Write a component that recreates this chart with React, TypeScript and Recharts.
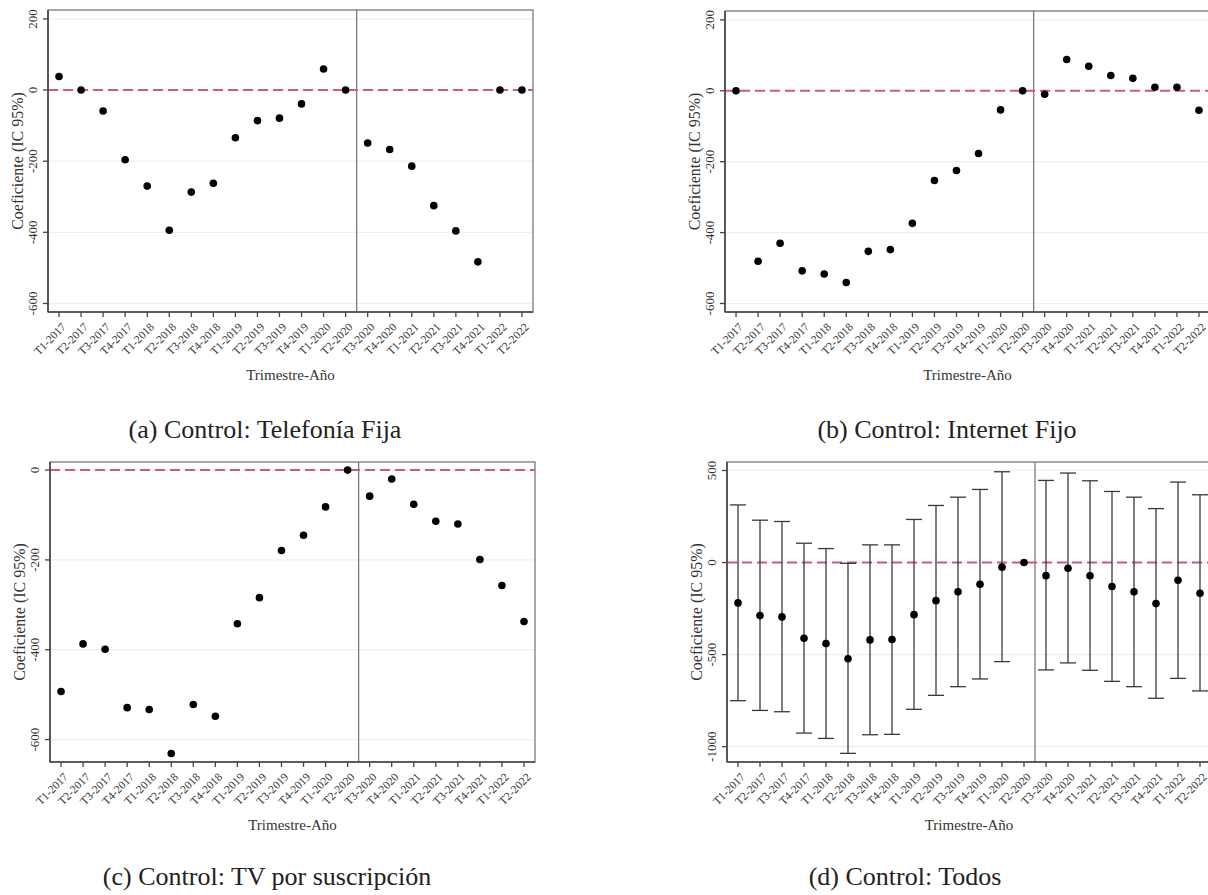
import {
  CartesianGrid,
  ComposedChart,
  ErrorBar,
  Label,
  ReferenceArea,
  ReferenceLine,
  Scatter,
  XAxis,
  YAxis,
} from 'recharts'

const FONT = '"Liberation Serif", "DejaVu Serif", serif'

const periods = [
  'T1-2017', 'T2-2017', 'T3-2017', 'T4-2017',
  'T1-2018', 'T2-2018', 'T3-2018', 'T4-2018',
  'T1-2019', 'T2-2019', 'T3-2019', 'T4-2019',
  'T1-2020', 'T2-2020', 'T3-2020', 'T4-2020',
  'T1-2021', 'T2-2021', 'T3-2021', 'T4-2021',
  'T1-2022', 'T2-2022',
]

// position of the vertical break between T2-2020 and T3-2020
const BREAK_AT = 13.5

const telefoniaFija = [38, 0, -59, -196, -270, -394, -287, -262, -134, -86, -79, -39, 59, 0, -149, -167, -214, -325, -396, -483, 0, 0]
const internetFijo = [0, -481, -430, -508, -517, -541, -453, -448, -374, -253, -225, -177, -54, 0, -10, 88, 69, 43, 35, 10, 10, -55]
const tvSuscripcion = [-493, -387, -399, -529, -533, -631, -522, -548, -342, -284, -179, -145, -82, 0, -58, -20, -76, -114, -120, -199, -257, -337]
const todos = [-219, -288, -295, -411, -440, -522, -420, -418, -283, -207, -159, -118, -25, 0, -71, -31, -72, -130, -159, -223, -96, -167]
const todosLower = [-750, -803, -810, -926, -955, -1036, -935, -933, -797, -721, -674, -632, -538, null, -583, -545, -585, -645, -674, -737, -629, -697]
const todosUpper = [313, 230, 223, 105, 76, -4, 96, 96, 234, 310, 355, 397, 493, null, 446, 486, 444, 386, 355, 293, 437, 368]

const ticksSmall = [-600, -400, -200, 0, 200]
const ticksTv = [-600, -400, -200, 0]
const ticksTodos = [-1000, -500, 0, 500]

type PanelProps = {
  values: number[]
  lower?: (number | null)[]
  upper?: (number | null)[]
  domain: [number, number]
  ticks: number[]
  left: number
  top: number
  width: number
  yAxisWidth: number
  xAxisHeight: number
}

const HEIGHT = 400

function XTick({ x, y, payload }: any) {
  const ax = x + 2
  const ay = y + 3
  return (
    <text
      x={ax}
      y={ay}
      transform={`rotate(-45, ${ax}, ${ay})`}
      textAnchor="end"
      dominantBaseline="hanging"
      fontSize={11.5}
      fontFamily={FONT}
      fill="#333"
    >
      {periods[payload.value]}
    </text>
  )
}

function YTick({ x, y, payload }: any) {
  const ax = x - 4
  return (
    <text
      x={ax}
      y={y}
      transform={`rotate(-90, ${ax}, ${y})`}
      textAnchor="middle"
      fontSize={13}
      fontFamily={FONT}
      fill="#333"
    >
      {payload.value}
    </text>
  )
}

function Dot({ cx, cy }: any) {
  return <circle cx={cx} cy={cy} r={3.8} fill="#000" />
}

function Panel({ values, lower, upper, domain, ticks, left, top, width, yAxisWidth, xAxisHeight }: PanelProps) {
  const data = values.map((v, i) => {
    const lo = lower ? lower[i] : null
    const hi = upper ? upper[i] : null
    return {
      x: i,
      y: v,
      ci: lo === null || hi === null ? null : [v - lo, hi - v],
    }
  })

  return (
    <div style={{ position: 'absolute', left, top }}>
      <ComposedChart
        width={width}
        height={HEIGHT}
        data={data}
        margin={{ top: 10, right: 12, bottom: 0, left: 0 }}
      >
        <CartesianGrid vertical={false} stroke="#efefef" strokeWidth={1.2} />
        <XAxis
          type="number"
          dataKey="x"
          domain={[-0.5, periods.length - 0.5]}
          ticks={periods.map((_, i) => i)}
          interval={0}
          allowDataOverflow
          height={xAxisHeight}
          tick={<XTick />}
          tickSize={5}
          tickLine={{ stroke: '#444', strokeWidth: 1.3 }}
          axisLine={{ stroke: '#444', strokeWidth: 1.6 }}
        >
          <Label
            content={({ viewBox }: any) => (
              <text
                x={viewBox.x + viewBox.width / 2}
                y={viewBox.y + 68}
                textAnchor="middle"
                fontSize={15}
                fontFamily={FONT}
                fill="#333"
              >
                Trimestre-Año
              </text>
            )}
          />
        </XAxis>
        <YAxis
          type="number"
          dataKey="y"
          domain={domain}
          ticks={ticks}
          allowDataOverflow
          width={yAxisWidth}
          tick={<YTick />}
          tickSize={5}
          tickLine={{ stroke: '#444', strokeWidth: 1.3 }}
          axisLine={{ stroke: '#444', strokeWidth: 1.6 }}
        >
          <Label
            content={({ viewBox }: any) => {
              const lx = viewBox.x + viewBox.width - 25
              const ly = viewBox.y + viewBox.height / 2
              return (
                <text
                  x={lx}
                  y={ly}
                  transform={`rotate(-90, ${lx}, ${ly})`}
                  textAnchor="middle"
                  fontSize={16}
                  fontFamily={FONT}
                  fill="#333"
                >
                  Coeficiente (IC 95%)
                </text>
              )
            }}
          />
        </YAxis>
        <ReferenceArea
          x1={-0.5}
          x2={periods.length - 0.5}
          y1={domain[0]}
          y2={domain[1]}
          fill="none"
          stroke="#8c8c8c"
          strokeWidth={1.5}
        />
        <ReferenceLine x={BREAK_AT} stroke="#7a7a7a" strokeWidth={1.3} />
        <ReferenceLine y={0} stroke="#cc5a7e" strokeWidth={2} strokeDasharray="10 5" />
        <Scatter dataKey="y" shape={<Dot />} isAnimationActive={false}>
          {lower && (
            <ErrorBar
              dataKey="ci"
              direction="y"
              width={8}
              stroke="#3a3a3a"
              strokeWidth={1.3}
              isAnimationActive={false}
            />
          )}
        </Scatter>
      </ComposedChart>
    </div>
  )
}

function Caption({ text, cx, top }: { text: string; cx: number; top: number }) {
  return (
    <div
      style={{
        position: 'absolute',
        left: cx - 250,
        top,
        width: 500,
        textAlign: 'center',
        fontFamily: FONT,
        fontSize: 26,
        color: '#222',
        whiteSpace: 'nowrap',
      }}
    >
      {text}
    </div>
  )
}

export default function App() {
  return (
    <div
      style={{
        position: 'absolute',
        left: 0,
        top: 0,
        width: 1208,
        height: 895,
        overflow: 'hidden',
        background: '#fff',
      }}
    >
      <Panel
        values={telefoniaFija}
        domain={[-624, 225]}
        ticks={ticksSmall}
        left={0}
        top={0}
        width={545}
        yAxisWidth={48}
        xAxisHeight={88}
      />
      <Panel
        values={internetFijo}
        domain={[-624, 225]}
        ticks={ticksSmall}
        left={660}
        top={1}
        width={562}
        yAxisWidth={65}
        xAxisHeight={89}
      />
      <Panel
        values={tvSuscripcion}
        domain={[-650, 18]}
        ticks={ticksTv}
        left={0}
        top={452}
        width={547}
        yAxisWidth={50}
        xAxisHeight={90}
      />
      <Panel
        values={todos}
        lower={todosLower}
        upper={todosUpper}
        domain={[-1083, 546]}
        ticks={ticksTodos}
        left={660}
        top={452}
        width={563}
        yAxisWidth={67}
        xAxisHeight={90}
      />
      <Caption text="(a) Control: Telefonía Fija" cx={265} top={415} />
      <Caption text="(b) Control: Internet Fijo" cx={947} top={415} />
      <Caption text="(c) Control: TV por suscripción" cx={267} top={862} />
      <Caption text="(d) Control: Todos" cx={905} top={862} />
    </div>
  )
}
